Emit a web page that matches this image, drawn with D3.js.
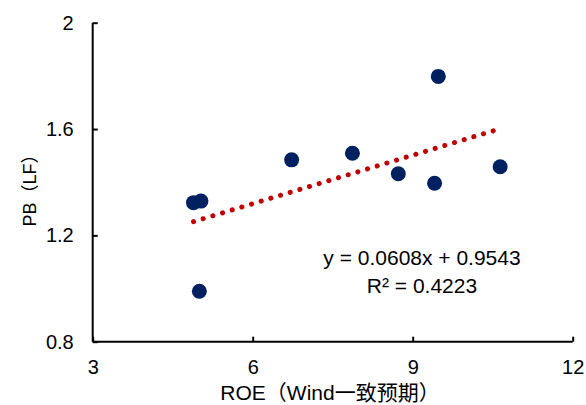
<!DOCTYPE html>
<html>
<head>
    <meta charset="utf-8" />
    <title>PB vs ROE</title>
    <style>
        body { margin: 0; background: #fff; }
        #scatter_chart { width: 586px; height: 405px; }
        text { font-family: "Liberation Sans", Arial, "Noto Sans CJK SC", sans-serif; fill: #000; }
    </style>
</head>
<body>
    <div id="scatter_chart"></div>
    <script src="https://cdnjs.cloudflare.com/ajax/libs/d3/7.8.5/d3.min.js"></script>
    <script>
        // data
        var roe = [4.89, 5.03, 5.0, 6.73, 7.87, 8.73, 9.41, 9.48, 10.64]
        var pb = [1.323, 1.329, 0.99, 1.484, 1.509, 1.432, 1.396, 1.798, 1.458]
        var xTicks = [3, 6, 9, 12]
        var yTicks = [0.8, 1.2, 1.6, 2]
        var slope = 0.0608
        var intercept = 0.9543
        var eqLabels = ["y = 0.0608x + 0.9543", "R² = 0.4223"]

        var width = 586, height = 405
        var margin = { left: 92.7, right: 13.3, top: 22.7, bottom: 63.3 }

        var svg = d3.select("#scatter_chart")
            .append("svg")
            .attr("width", width)
            .attr("height", height)

        var xScale = d3.scaleLinear()
            .domain([3, 12])
            .range([margin.left, width - margin.right])
        var yScale = d3.scaleLinear()
            .domain([0.8, 2])
            .range([height - margin.bottom, margin.top])

        // axes, ticks point inwards
        var xAxis = d3.axisBottom(xScale).tickValues(xTicks).tickSize(-5)
            .tickFormat(d3.format("d"))
        var yAxis = d3.axisLeft(yScale).tickValues(yTicks).tickSize(-5)
            .tickFormat(function (d) { return String(d) })

        var gx = svg.append("g")
            .attr("transform", "translate(0," + yScale(0.8) + ")")
            .call(xAxis)
        var gy = svg.append("g")
            .attr("transform", "translate(" + xScale(3) + ",0)")
            .call(yAxis)

        ;[gx, gy].forEach(function (g) {
            g.select(".domain").attr("stroke", "#000").attr("stroke-width", 2)
            g.selectAll(".tick line").attr("stroke", "#000").attr("stroke-width", 2)
            g.selectAll(".tick text")
                .style("font-size", "20px")
                .attr("fill", "#000")
        })
        gy.select(".domain").attr("d", "M0," + yScale(2) + "H0V" + yScale(0.8))
        gx.select(".domain").attr("d", "M" + xScale(3) + ",0H" + xScale(12))
        gy.selectAll(".tick text").attr("x", -19)
        gx.selectAll(".tick text").attr("y", 18)

        // trend line, dotted
        var xs = [d3.min(roe), d3.max(roe)]
        svg.append("line")
            .attr("x1", xScale(xs[0]))
            .attr("y1", yScale(slope * xs[0] + intercept))
            .attr("x2", xScale(xs[1]))
            .attr("y2", yScale(slope * xs[1] + intercept))
            .attr("stroke", "#C00000")
            .attr("stroke-width", 5)
            .attr("stroke-linecap", "round")
            .attr("stroke-dasharray", "0.1 10")

        // points
        svg.append("g")
            .selectAll("circle")
            .data(roe)
            .enter().append("circle")
            .attr("cx", function (d) { return xScale(d) })
            .attr("cy", function (d, i) { return yScale(pb[i]) })
            .attr("r", 7.5)
            .attr("fill", "#002060")

        // equation
        svg.append("g")
            .selectAll("text")
            .data(eqLabels)
            .enter().append("text")
            .attr("x", 422)
            .attr("y", function (d, i) { return 265 + i * 28 })
            .attr("text-anchor", "middle")
            .style("font-size", "21px")
            .text(function (d) { return d })

        // axis titles
        svg.append("text")
            .attr("x", 330)
            .attr("y", 400)
            .attr("text-anchor", "middle")
            .style("font-size", "21px")
            .text("ROE（Wind一致预期）")

        svg.append("text")
            .attr("transform", "translate(36,186) rotate(-90)")
            .attr("text-anchor", "middle")
            .style("font-size", "18px")
            .text("PB（LF）")
    </script>
</body>
</html>
